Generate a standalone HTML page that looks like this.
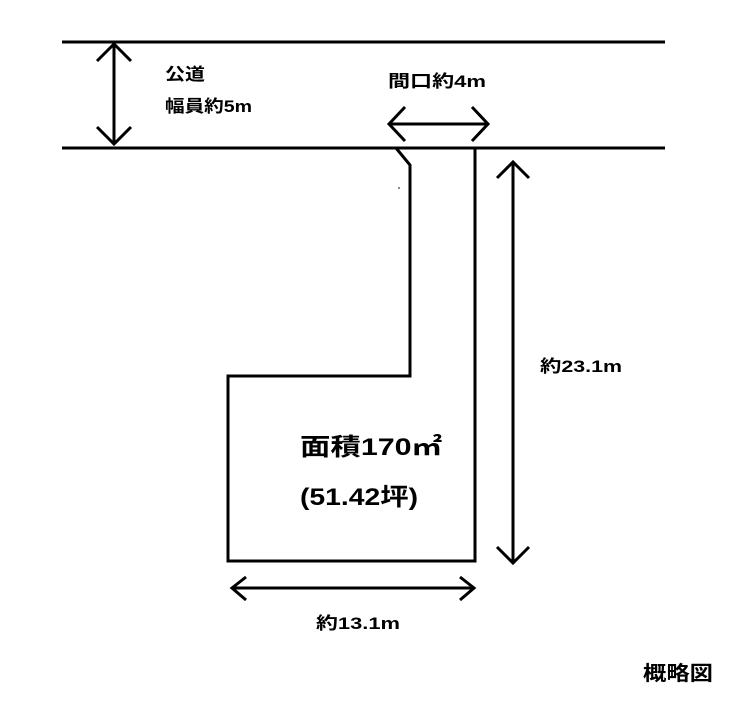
<!DOCTYPE html>
<html><head><meta charset="utf-8"><style>
body{margin:0;background:#fff;width:740px;height:703px;overflow:hidden}
svg{display:block}
text{font-family:"Liberation Sans","Noto Sans CJK JP",sans-serif;font-weight:bold;fill:#000}
</style></head><body>
<svg width="740" height="703" viewBox="0 0 740 703">
<g stroke="#000" stroke-width="3" fill="none" stroke-linecap="butt">
<line x1="62" y1="42" x2="665" y2="42"/>
<line x1="62" y1="148" x2="665" y2="148"/>
<path d="M396 148 L410 165 L410 376 L228 376 L228 561 L475 561 L475 148"/>
<line x1="114" y1="44" x2="114" y2="144"/>
<path d="M97 61 L114 44 L131 61 M97 127 L114 144 L131 127"/>
<line x1="389" y1="124" x2="488" y2="124"/>
<path d="M405 107 L389 124 L405 141 M472 107 L488 124 L472 141"/>
<line x1="513" y1="162" x2="513" y2="563"/>
<path d="M497 178 L513 162 L529 178 M497 547 L513 563 L529 547"/>
<line x1="232" y1="588" x2="474" y2="588"/>
<path d="M246 577 L232 588 L246 600 M460 577 L474 588 L460 600"/>
</g>
<circle cx="399" cy="188" r="1" fill="#666"/>
<text x="165" y="80" font-size="17" textLength="40" lengthAdjust="spacingAndGlyphs">公道</text>
<text x="165" y="112" font-size="17" textLength="87" lengthAdjust="spacingAndGlyphs">幅員約5m</text>
<text x="388" y="87" font-size="17" textLength="98" lengthAdjust="spacingAndGlyphs">間口約4m</text>
<text x="540" y="372" font-size="17" textLength="82" lengthAdjust="spacingAndGlyphs">約23.1m</text>
<text x="300" y="455" font-size="24" textLength="142" lengthAdjust="spacingAndGlyphs">面積170㎡</text>
<text x="300" y="505" font-size="24" textLength="118" lengthAdjust="spacingAndGlyphs">(51.42坪)</text>
<text x="316" y="629" font-size="17" textLength="84" lengthAdjust="spacingAndGlyphs">約13.1m</text>
<text x="643" y="680" font-size="20" textLength="70" lengthAdjust="spacingAndGlyphs">概略図</text>
</svg>
</body></html>
